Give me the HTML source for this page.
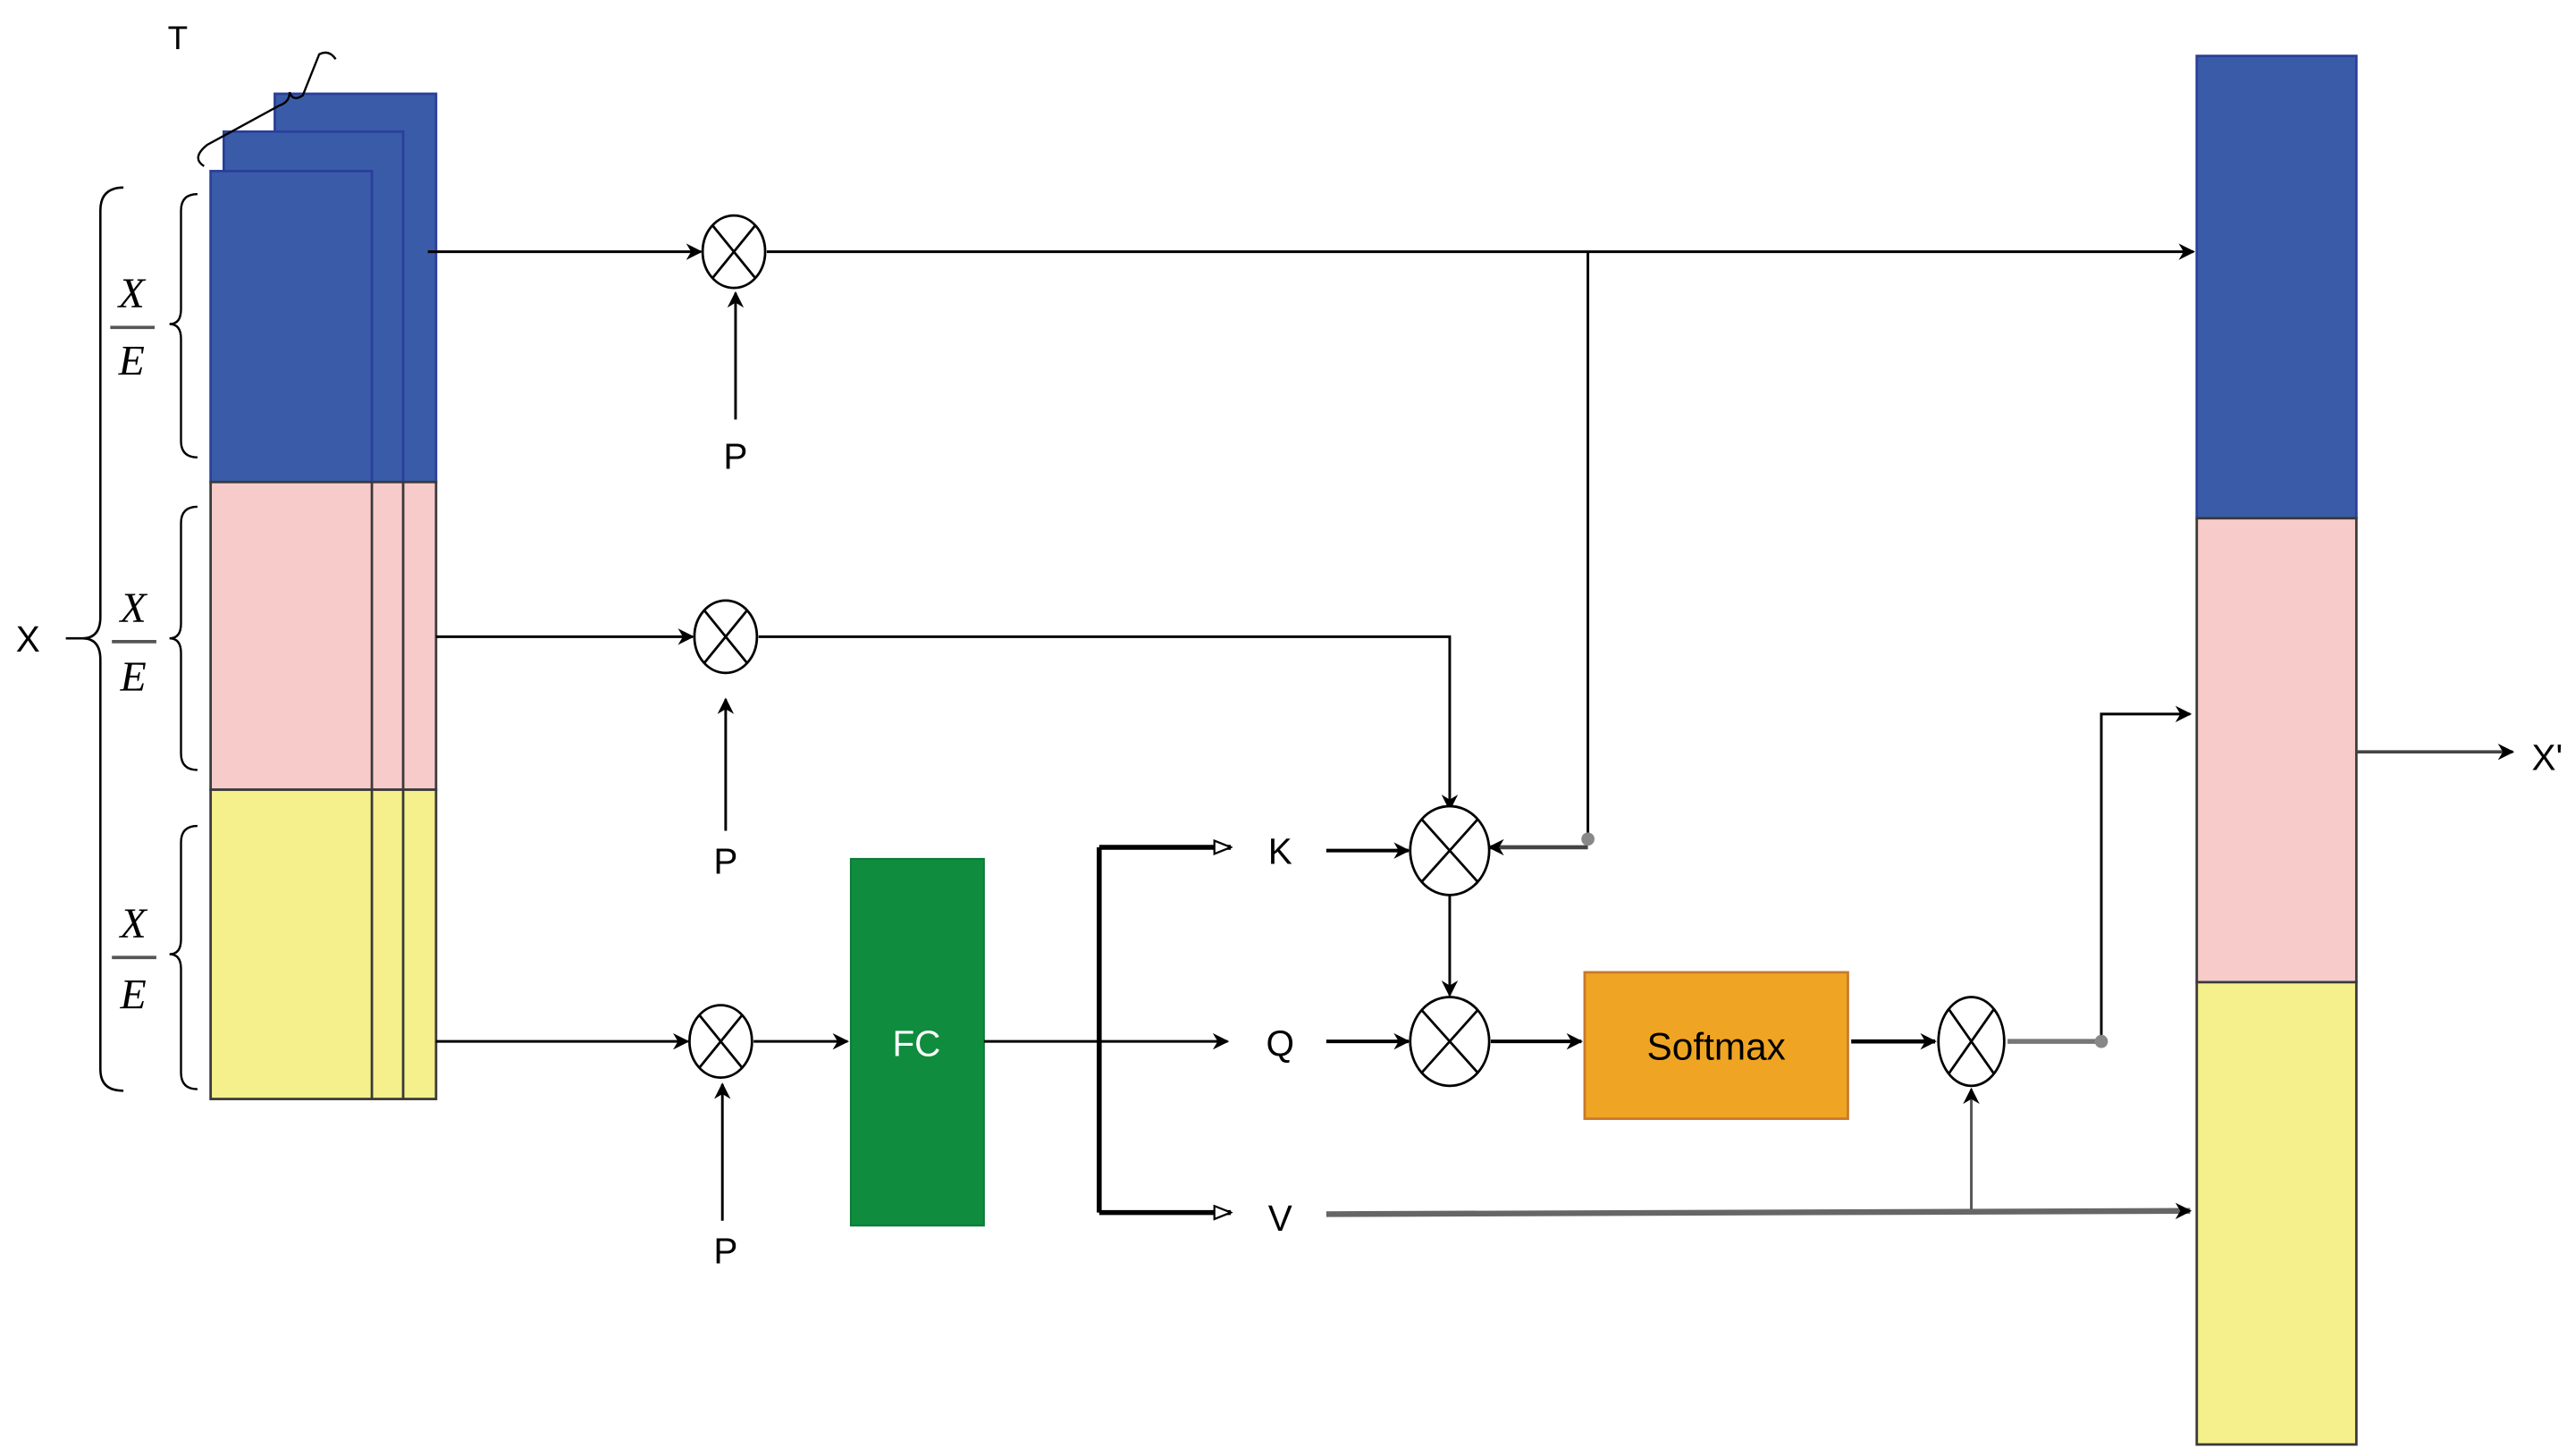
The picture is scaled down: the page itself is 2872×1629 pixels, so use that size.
<!DOCTYPE html>
<html><head><meta charset="utf-8"><style>html,body{margin:0;padding:0;background:#fff}svg{display:block}</style></head><body>
<svg width="2872" height="1629" viewBox="0 0 1560 885" preserveAspectRatio="none" xmlns="http://www.w3.org/2000/svg" font-family="Liberation Sans, sans-serif">
<defs>
<marker id="a" markerWidth="10" markerHeight="10" refX="9" refY="5" orient="auto" markerUnits="userSpaceOnUse"><path d="M0,0 L10,5 L0,10 L3,5 Z" fill="#000"/></marker>
<marker id="o" markerWidth="12" markerHeight="10" refX="11" refY="5" orient="auto" markerUnits="userSpaceOnUse"><path d="M1,1 L11,5 L1,9 Z" fill="#fff" stroke="#000" stroke-width="1.2"/></marker>
</defs>
<!-- left stack -->
<rect x="167" y="57" width="98" height="236" fill="#3a5ca8" stroke="#2a3f9a" stroke-width="1.5"/>
<rect x="136" y="80" width="109" height="213" fill="#3a5ca8" stroke="#2a3f9a" stroke-width="1.5"/>
<rect x="128" y="104" width="98" height="189" fill="#3a5ca8" stroke="#2a3f9a" stroke-width="1.5"/>
<rect x="128" y="293" width="137" height="187" fill="#f8cbcb" stroke="#3a3a3a" stroke-width="1.5"/>
<rect x="128" y="480" width="137" height="188" fill="#f5ef8c" stroke="#3a3a3a" stroke-width="1.5"/>
<line x1="226" y1="293" x2="226" y2="668" stroke="#3a3a3a" stroke-width="1.5"/>
<line x1="245" y1="293" x2="245" y2="668" stroke="#3a3a3a" stroke-width="1.5"/>
<text x="108" y="30" font-size="20" text-anchor="middle">T</text>
<path d="M124,101 Q116,96 126,88 L170,64 Q176,62 176,56 Q178,62 184,58 L194,33 Q200,30 204,36" fill="none" stroke="#000" stroke-width="1.3"/>
<!-- braces -->
<path d="M75,114 Q61,114 61,128 L61,375 Q61,388 50,388 Q61,388 61,401 L61,650 Q61,663 75,663" fill="none" stroke="#000" stroke-width="1.4"/>
<line x1="40" y1="388" x2="50" y2="388" stroke="#000" stroke-width="1.4"/>
<text x="17" y="396" font-size="22" text-anchor="middle">X</text>
<g fill="none" stroke="#000" stroke-width="1.3">
<path d="M120,118 Q110,118 110,128 L110,188 Q110,197 103,197 Q110,197 110,206 L110,268 Q110,278 120,278"/>
<path d="M120,308 Q110,308 110,318 L110,379 Q110,388 103,388 Q110,388 110,397 L110,458 Q110,468 120,468"/>
<path d="M120,502 Q110,502 110,512 L110,571 Q110,580 103,580 Q110,580 110,589 L110,652 Q110,662 120,662"/>
</g>
<g font-family="Liberation Serif, serif" font-style="italic" font-size="26" text-anchor="middle">
<text x="80" y="187">X</text><line x1="67" y1="199" x2="94" y2="199" stroke="#555" stroke-width="2"/><text x="80" y="228">E</text>
<text x="81" y="378">X</text><line x1="68" y1="390" x2="95" y2="390" stroke="#555" stroke-width="2"/><text x="81" y="420">E</text>
<text x="81" y="570">X</text><line x1="68" y1="582" x2="95" y2="582" stroke="#555" stroke-width="2"/><text x="81" y="613">E</text>
</g>
<!-- right column -->
<rect x="1335" y="34" width="97" height="281" fill="#3a5ca8" stroke="#2a3f9a" stroke-width="1.5"/>
<rect x="1335" y="315" width="97" height="282" fill="#f8cbcb" stroke="#3a3a3a" stroke-width="1.5"/>
<rect x="1335" y="597" width="97" height="281" fill="#f5ef8c" stroke="#3a3a3a" stroke-width="1.5"/>
<!-- boxes -->
<rect x="517" y="522" width="81" height="223" fill="#0f8c3e" stroke="#0a7a35"/>
<text x="557" y="642" font-size="22" fill="#fff" text-anchor="middle">FC</text>
<rect x="963" y="591" width="160" height="89" fill="#efa523" stroke="#c87a2b" stroke-width="1.5"/>
<text x="1043" y="644" font-size="23" text-anchor="middle">Softmax</text>
<!-- connectors -->
<g stroke="#000" stroke-width="1.6" fill="none">
<line x1="260" y1="153" x2="426" y2="153" marker-end="url(#a)"/>
<line x1="466" y1="153" x2="1333" y2="153" marker-end="url(#a)"/>
<path d="M965,153 L965,510"/>
<line x1="965" y1="515" x2="905" y2="515" marker-end="url(#a)" stroke="#444" stroke-width="2.5"/>
<line x1="265" y1="387" x2="421" y2="387" marker-end="url(#a)"/>
<path d="M461,387 L881,387 L881,492" marker-end="url(#a)"/>
<line x1="265" y1="633" x2="418" y2="633" marker-end="url(#a)"/>
<line x1="458" y1="633" x2="515" y2="633" marker-end="url(#a)"/>
<line x1="598" y1="633" x2="746" y2="633" marker-end="url(#a)"/>
<path d="M668,515 L668,737" stroke-width="3"/>
<line x1="668" y1="515" x2="748" y2="515" stroke-width="3" marker-end="url(#o)"/>
<line x1="668" y1="737" x2="748" y2="737" stroke-width="3" marker-end="url(#o)"/>
<line x1="806" y1="517" x2="856" y2="517" stroke-width="2.2" marker-end="url(#a)"/>
<line x1="806" y1="633" x2="856" y2="633" stroke-width="2.2" marker-end="url(#a)"/>
<line x1="881" y1="543" x2="881" y2="605" marker-end="url(#a)"/>
<line x1="906" y1="633" x2="961" y2="633" stroke-width="2.2" marker-end="url(#a)"/>
<line x1="1125" y1="633" x2="1176" y2="633" stroke-width="2.5" marker-end="url(#a)"/>
<line x1="1220" y1="633" x2="1277" y2="633" stroke="#777" stroke-width="3"/>
<path d="M1277,633 L1277,434 L1331,434" marker-end="url(#a)"/>
<line x1="806" y1="738" x2="1331" y2="736" stroke="#666" stroke-width="3.5" marker-end="url(#a)"/>
<line x1="1198" y1="735" x2="1198" y2="662" stroke="#555" marker-end="url(#a)"/>
<line x1="447" y1="255" x2="447" y2="178" marker-end="url(#a)"/>
<line x1="441" y1="505" x2="441" y2="425" marker-end="url(#a)"/>
<line x1="439" y1="742" x2="439" y2="659" marker-end="url(#a)"/>
<line x1="1432" y1="457" x2="1527" y2="457" stroke="#444" stroke-width="2" marker-end="url(#a)"/>
</g>
<circle cx="965" cy="510" r="4" fill="#888"/>
<circle cx="1277" cy="633" r="4" fill="#888"/>
<!-- otimes -->
<g fill="#fff" stroke="#000" stroke-width="1.5">
<g transform="translate(446,153)"><ellipse rx="19" ry="22"/><path d="M-13,-16 L13,16 M13,-16 L-13,16"/></g>
<g transform="translate(441,387)"><ellipse rx="19" ry="22"/><path d="M-13,-16 L13,16 M13,-16 L-13,16"/></g>
<g transform="translate(438,633)"><ellipse rx="19" ry="22"/><path d="M-13,-16 L13,16 M13,-16 L-13,16"/></g>
<g transform="translate(881,517)"><ellipse rx="24" ry="27"/><path d="M-17,-19 L17,19 M17,-19 L-17,19"/></g>
<g transform="translate(881,633)"><ellipse rx="24" ry="27"/><path d="M-17,-19 L17,19 M17,-19 L-17,19"/></g>
<g transform="translate(1198,633)"><ellipse rx="20" ry="27"/><path d="M-14,-20 L14,20 M14,-20 L-14,20"/></g>
</g>
<g font-size="22" text-anchor="middle">
<text x="447" y="285">P</text><text x="441" y="531">P</text><text x="441" y="768">P</text>
<text x="778" y="525">K</text><text x="778" y="642">Q</text><text x="778" y="748">V</text>
<text x="1548" y="468">X'</text>
</g>
</svg>
</body></html>
